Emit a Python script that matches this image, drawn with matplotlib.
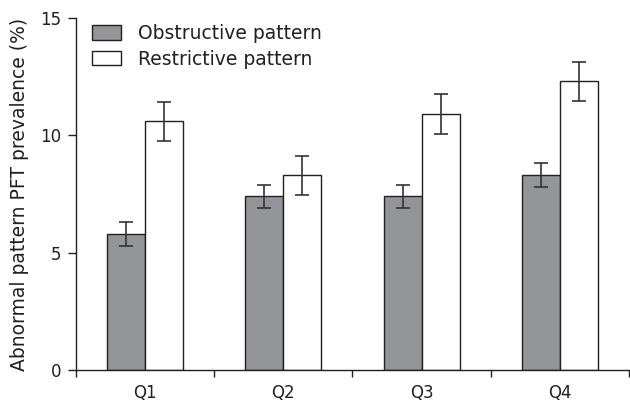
import numpy as np
import matplotlib
matplotlib.use("Agg")
import matplotlib.pyplot as plt

# données
quartiles = ["Q1", "Q2", "Q3", "Q4"]
obstructive = [5.8, 7.4, 7.4, 8.3]
obstructive_err = [0.5, 0.5, 0.5, 0.5]
restrictive = [10.6, 8.3, 10.9, 12.3]
restrictive_err = [0.83, 0.84, 0.84, 0.84]

text_color = "#231f20"
plt.rcParams["font.family"] = ["DejaVu Sans"]
plt.rcParams["text.color"] = text_color
plt.rcParams["axes.labelcolor"] = text_color
plt.rcParams["xtick.color"] = text_color
plt.rcParams["ytick.color"] = text_color

fig = plt.figure(figsize=(6.3, 4.05), dpi=100)
ax = fig.add_axes([0.120, 0.0864, 0.879, 0.8692])

x = np.arange(len(quartiles))
w = 0.274
err_kw = dict(ecolor="#333333", elinewidth=1.2, capsize=5, capthick=1.2)

ax.bar(x - w / 2, obstructive, w, yerr=obstructive_err, color="#939598",
       edgecolor="#231f20", linewidth=1.0, error_kw=err_kw, label="Obstructive pattern")
ax.bar(x + w / 2, restrictive, w, yerr=restrictive_err, color="white",
       edgecolor="#231f20", linewidth=1.0, error_kw=err_kw, label="Restrictive pattern")

ax.set_xlim(-0.5, 3.5)
ax.set_ylim(0, 15)
ax.set_yticks([0, 5, 10, 15])
ax.set_xticks(x)
ax.set_xticklabels(quartiles)
ax.set_xticks(np.arange(-0.5, 4.0, 1.0), minor=True)
ax.tick_params(axis="x", which="major", length=0, labelsize=12, pad=10)
ax.tick_params(axis="x", which="minor", length=5, width=1.0, direction="out")
ax.tick_params(axis="y", length=6, width=1.0, labelsize=12, pad=4)

for side in ["top", "right"]:
    ax.spines[side].set_visible(False)
for side in ["left", "bottom"]:
    ax.spines[side].set_linewidth(1.0)
    ax.spines[side].set_color(text_color)

ax.set_ylabel("Abnormal pattern PFT prevalence (%)", fontsize=13.5, labelpad=8)

ax.legend(loc="upper left", bbox_to_anchor=(0.01, 1.015), frameon=False, fontsize=13.5,
          handlelength=1.5, handleheight=0.8, handletextpad=0.95, labelspacing=0.35,
          borderaxespad=0.2)

fig.savefig("out.png", dpi=100)
